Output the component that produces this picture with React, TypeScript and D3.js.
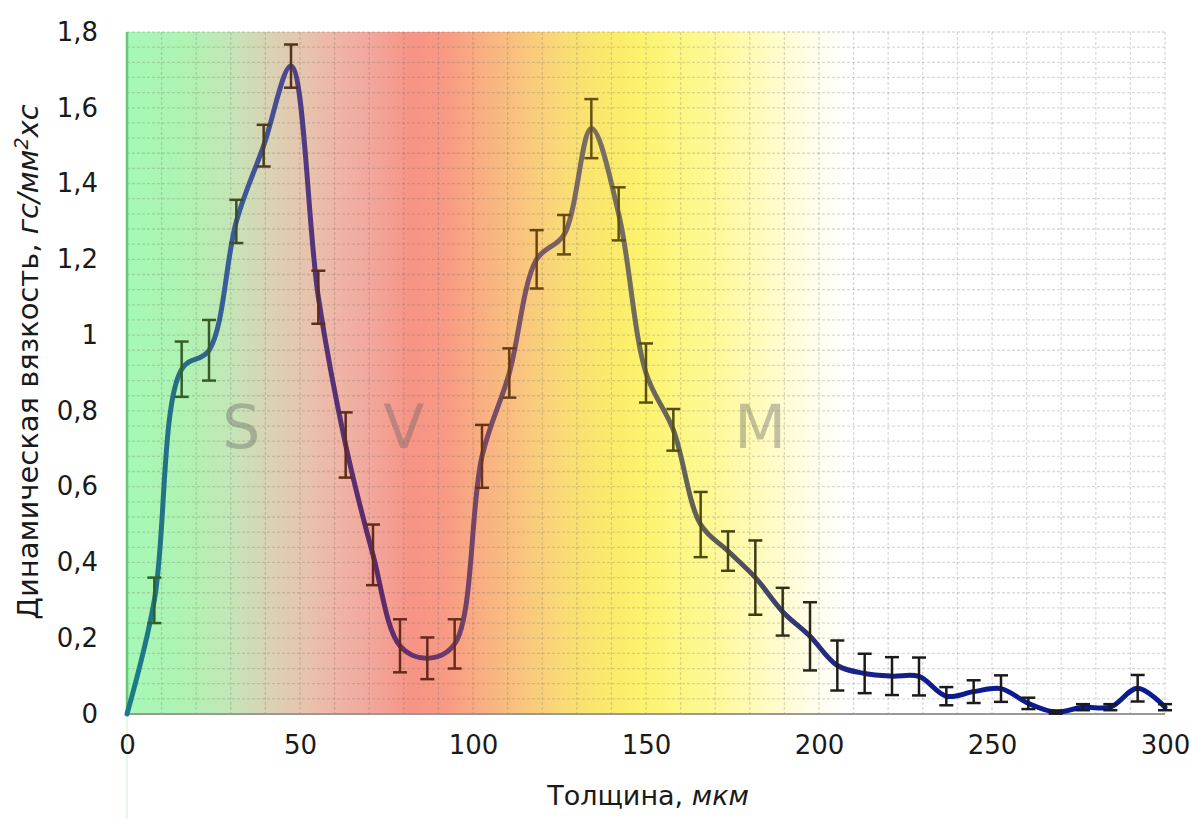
import React, { useRef, useEffect } from "react";
import * as d3 from "d3";

// thickness, um
const thickness = [
  0, 7.9, 15.8, 23.7, 31.6, 39.5, 47.4, 55.3, 63.2, 71.1, 78.9, 86.8, 94.7,
  102.6, 110.5, 118.4, 126.3, 134.2, 142.1, 150, 157.9, 165.8, 173.7, 181.6,
  189.5, 197.4, 205.3, 213.2, 221.1, 228.9, 236.8, 244.7, 252.6, 260.5, 268.4,
  276.3, 284.2, 292.1, 300,
];

// dynamic viscosity
const viscosity = [
  0, 0.3, 0.91, 0.96, 1.3, 1.5, 1.71, 1.1, 0.71, 0.42, 0.18, 0.147, 0.185,
  0.68, 0.9, 1.2, 1.265, 1.545, 1.32, 0.9, 0.75, 0.5, 0.43, 0.36, 0.27, 0.205,
  0.128, 0.107, 0.1, 0.099, 0.047, 0.059, 0.067, 0.028, 0.005, 0.018, 0.018,
  0.068, 0.018,
];

const viscosityErr = [
  0, 0.06, 0.073, 0.08, 0.057, 0.055, 0.057, 0.07, 0.086, 0.08, 0.07, 0.055,
  0.065, 0.083, 0.065, 0.077, 0.052, 0.078, 0.07, 0.078, 0.055, 0.086, 0.052,
  0.098, 0.063, 0.09, 0.066, 0.052, 0.05, 0.05, 0.024, 0.03, 0.035, 0.015,
  0.004, 0.008, 0.008, 0.035, 0.008,
];

const xTicks = [0, 50, 100, 150, 200, 250, 300];
const yTicks = [0, 0.2, 0.4, 0.6, 0.8, 1, 1.2, 1.4, 1.6, 1.8];
const yTickLabels = ["0", "0,2", "0,4", "0,6", "0,8", "1", "1,2", "1,4", "1,6", "1,8"];

const zoneNames = ["S", "V", "M"];
const zoneCenters = [33, 80, 183];

// colour stops along the thickness axis
const bgStops: [number, string][] = [
  [0, "#a6f8b6"], [18, "#b0f2b2"], [30, "#c4e6b6"], [40, "#d8d4b4"],
  [50, "#e6c6ae"], [60, "#eeb6a6"], [70, "#f2a89c"], [82, "#f69486"],
  [92, "#f89a84"], [102, "#f8ae82"], [115, "#f9c67e"], [126, "#f9dc76"],
  [137, "#fae86c"], [148, "#fcf26c"], [158, "#fdf680"], [168, "#fef894"],
  [178, "#fffaae"], [188, "#fffccc"], [198, "#fffeea"], [208, "#ffffff"],
  [300, "#ffffff"],
];
const lineStops: [number, string][] = [
  [0, "#1c7c8a"], [15, "#266e84"], [30, "#3a5c98"], [45, "#4a4a92"],
  [55, "#563278"], [72, "#5c2a6a"], [90, "#6a386c"], [105, "#7a4a66"],
  [120, "#7a5a64"], [135, "#7a7062"], [150, "#6e6a5a"], [168, "#5e5e54"],
  [182, "#4a4a62"], [196, "#2a3078"], [210, "#1a2288"], [240, "#0c1a90"],
  [300, "#0a1a90"],
];
const barStops: [number, string][] = [
  [0, "#2e6030"], [25, "#385a28"], [40, "#4a3c1e"], [52, "#5a2c1a"],
  [90, "#6a281a"], [110, "#6a3a12"], [130, "#6a5010"], [150, "#5a5010"],
  [170, "#4a4a12"], [195, "#2a2a1a"], [210, "#1a1a1a"], [300, "#1a1a1a"],
];

const font = "'DejaVu Sans', Verdana, sans-serif";

const App = () => {
  const svgRef = useRef(null);

  useEffect(() => {
    const svg = d3.select(svgRef.current);
    svg.selectAll("*").remove();

    const x = d3.scaleLinear().domain([0, 300]).range([127, 1165]);
    const y = d3.scaleLinear().domain([0, 1.8]).range([714, 32]);

    const defs = svg.append("defs");
    const addGrad = (id: string, stops: [number, string][]) => {
      const g = defs
        .append("linearGradient")
        .attr("id", id)
        .attr("gradientUnits", "userSpaceOnUse")
        .attr("x1", x(0))
        .attr("x2", x(300))
        .attr("y1", 0)
        .attr("y2", 0);
      stops.forEach(([v, c]) =>
        g.append("stop").attr("offset", v / 300).attr("stop-color", c)
      );
    };
    addGrad("bg", bgStops);
    addGrad("lineGrad", lineStops);
    addGrad("barGrad", barStops);

    // background
    svg
      .append("rect")
      .attr("x", x(0))
      .attr("y", y(1.8))
      .attr("width", x(300) - x(0))
      .attr("height", y(0) - y(1.8))
      .attr("fill", "url(#bg)");

    // grid
    const grid = svg.append("g").attr("stroke", "rgba(90,90,90,0.22)").attr("stroke-width", 1.3).attr("stroke-dasharray", "3,2");
    grid
      .selectAll("line.v")
      .data(d3.range(1, 31).map((i) => i * 10))
      .join("line")
      .attr("class", "v")
      .attr("x1", (d) => x(d))
      .attr("x2", (d) => x(d))
      .attr("y1", y(1.8))
      .attr("y2", y(0));
    grid
      .selectAll("line.h")
      .data(d3.range(1, 46).map((i) => i * 0.04))
      .join("line")
      .attr("class", "h")
      .attr("x1", x(0))
      .attr("x2", x(300))
      .attr("y1", (d) => y(d))
      .attr("y2", (d) => y(d));

    // axis lines
    svg
      .append("line")
      .attr("x1", x(0))
      .attr("x2", x(300))
      .attr("y1", y(0))
      .attr("y2", y(0))
      .attr("stroke", "#999")
      .attr("stroke-width", 2);
    svg
      .append("line")
      .attr("x1", x(0))
      .attr("x2", x(0))
      .attr("y1", y(0))
      .attr("y2", 819)
      .attr("stroke", "#dff6e2")
      .attr("stroke-width", 1.5);
    svg
      .append("line")
      .attr("x1", x(0))
      .attr("x2", x(0))
      .attr("y1", y(1.8))
      .attr("y2", y(0))
      .attr("stroke", "#62c878")
      .attr("stroke-width", 2.5);

    // zone letters
    svg
      .append("g")
      .selectAll("text")
      .data(zoneNames)
      .join("text")
      .attr("x", (d, i) => x(zoneCenters[i]))
      .attr("y", 448)
      .attr("text-anchor", "middle")
      .attr("font-family", font)
      .attr("font-size", 60)
      .attr("fill", "#606060")
      .attr("fill-opacity", 0.38)
      .text((d) => d);

    // curve
    const line = d3
      .line<number>()
      .x((d, i) => x(thickness[i]))
      .y((d) => y(d))
      .curve(d3.curveCatmullRom.alpha(0.5));
    svg
      .append("path")
      .datum(viscosity)
      .attr("d", line)
      .attr("fill", "none")
      .attr("stroke", "url(#lineGrad)")
      .attr("stroke-width", 5)
      .attr("stroke-linecap", "round");

    // error bars
    const bars = svg
      .append("g")
      .attr("stroke", "url(#barGrad)")
      .attr("stroke-width", 2.5)
      .selectAll("g")
      .data(viscosity.map((v, i) => ({ t: thickness[i], v, e: viscosityErr[i] })).filter((d) => d.e > 0))
      .join("g");
    bars
      .append("line")
      .attr("x1", (d) => x(d.t))
      .attr("x2", (d) => x(d.t))
      .attr("y1", (d) => y(d.v + d.e))
      .attr("y2", (d) => y(d.v - d.e));
    [1, -1].forEach((s) =>
      bars
        .append("line")
        .attr("x1", (d) => x(d.t) - 7)
        .attr("x2", (d) => x(d.t) + 7)
        .attr("y1", (d) => y(d.v + s * d.e))
        .attr("y2", (d) => y(d.v + s * d.e))
    );

    // axes
    const xAxis = svg
      .append("g")
      .attr("transform", `translate(0,${y(0)})`)
      .call(d3.axisBottom(x).tickValues(xTicks).tickSize(0).tickPadding(22));
    const yAxis = svg
      .append("g")
      .attr("transform", `translate(${x(0)},0)`)
      .call(
        d3
          .axisLeft(y)
          .tickValues(yTicks)
          .tickSize(0)
          .tickPadding(29)
          .tickFormat((d, i) => yTickLabels[i])
      );
    [xAxis, yAxis].forEach((g) => {
      g.select(".domain").remove();
      g.selectAll("text").attr("font-family", font).attr("font-size", 26).attr("fill", "#1a1a1a");
    });

    // titles
    const xt = svg
      .append("text")
      .attr("x", 648)
      .attr("y", 805)
      .attr("text-anchor", "middle")
      .attr("font-family", font)
      .attr("font-size", 27)
      .attr("fill", "#1a1a1a");
    xt.append("tspan").text("Толщина, ");
    xt.append("tspan").attr("font-style", "italic").text("мкм");

    const yt = svg
      .append("text")
      .attr("transform", "translate(38,362) rotate(-90)")
      .attr("text-anchor", "middle")
      .attr("font-family", font)
      .attr("font-size", 29)
      .attr("fill", "#1a1a1a");
    yt.append("tspan").text("Динамическая вязкость, ");
    yt.append("tspan").attr("font-style", "italic").text("гс/мм");
    yt.append("tspan").attr("font-style", "italic").attr("font-size", 19).attr("dy", -10).text("2");
    yt.append("tspan").attr("font-style", "italic").attr("dy", 10).text("хс");
  }, []);

  return (
    <svg
      ref={svgRef}
      width={1192}
      height={819}
      style={{ position: "absolute", left: 0, top: 0, background: "#fff" }}
    ></svg>
  );
};

export default App;
